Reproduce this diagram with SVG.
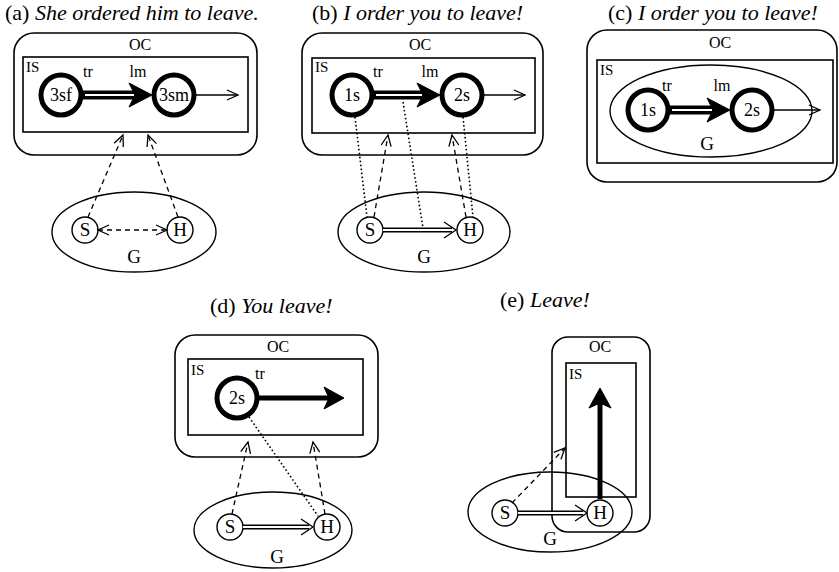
<svg xmlns="http://www.w3.org/2000/svg" width="839" height="572" viewBox="0 0 839 572" font-family="'Liberation Serif', 'Times New Roman', 'DejaVu Serif', serif">
<style>
text{font-family:'Liberation Serif','Times New Roman','DejaVu Serif',serif;fill:#000}
.title{font-size:22px}
.lbl{font-size:16px}
.sm{font-size:15px}
.tl{font-size:16px}
.nd{font-size:18px}
.sh{font-size:19px}
.oc{fill:none;stroke:#000;stroke-width:1.6}
.is{fill:none;stroke:#000;stroke-width:1.6}
.big{fill:#fff;stroke:#000;stroke-width:5}
.small{fill:#fff;stroke:#000;stroke-width:1.4}
.ell{fill:none;stroke:#000;stroke-width:1.4}
.thin{stroke:#000;stroke-width:1.3;fill:none}
.dash{stroke:#000;stroke-width:1.3;fill:none;stroke-dasharray:5 4}
.dot{stroke:#000;stroke-width:1.6;fill:none;stroke-dasharray:1.6 2.4}
.tk{stroke:#000;stroke-width:9;fill:none}
.tw{stroke:#fff;stroke-width:2;fill:none}
.dk{stroke:#000;stroke-width:5;fill:none}
.dw{stroke:#fff;stroke-width:2.2;fill:none}
.thick{stroke:#000;stroke-width:5;fill:none}
.head{fill:#000;stroke:#000;stroke-width:1;stroke-linejoin:round}
</style>
<defs>
<marker id="v" markerUnits="userSpaceOnUse" markerWidth="16" markerHeight="16" refX="12" refY="6" orient="auto-start-reverse" viewBox="0 0 16 12">
<path d="M1,1 L12,6 L1,11" fill="none" stroke="#000" stroke-width="1.3" stroke-dasharray="none"/>
</marker>
</defs>

<!-- Panel a -->
<g id="panel-a">
<text class="title" x="5" y="20">(a) <tspan font-style="italic">She ordered him to leave.</tspan></text>
<g id="a-OC"><rect class="oc" x="14" y="33" width="243" height="122" rx="20"/><text class="lbl" x="140" y="50" text-anchor="middle">OC</text></g>
<g id="a-IS"><rect class="is" x="23" y="57" width="225" height="75"/><text class="sm" x="26" y="72">IS</text></g>
<g id="a-3sf"><circle class="big" cx="61" cy="95" r="20"/><text class="nd" x="61" y="101" text-anchor="middle">3sf</text></g>
<g id="a-3sm"><circle class="big" cx="174" cy="95" r="20"/><text class="nd" x="174" y="101" text-anchor="middle">3sm</text></g>
<g id="a-G"><ellipse class="ell" cx="134" cy="232" rx="82" ry="40"/><text class="sh" x="134" y="263" text-anchor="middle">G</text></g>
<g id="a-S"><circle class="small" cx="85" cy="230" r="13"/><text class="sh" x="85" y="236" text-anchor="middle">S</text></g>
<g id="a-H"><circle class="small" cx="180" cy="230" r="13"/><text class="sh" x="180" y="236" text-anchor="middle">H</text></g>
<text class="tl" x="88" y="77" text-anchor="middle">tr</text>
<text class="tl" x="138" y="77" text-anchor="middle">lm</text>
</g>

<!-- Panel b -->
<g id="panel-b">
<text class="title" x="312" y="20">(b) <tspan font-style="italic">I order you to leave!</tspan></text>
<g id="b-OC"><rect class="oc" x="302" y="33" width="241" height="122" rx="20"/><text class="lbl" x="420" y="50" text-anchor="middle">OC</text></g>
<g id="b-IS"><rect class="is" x="312" y="58" width="223" height="75"/><text class="sm" x="315" y="72">IS</text></g>
<g id="b-1s"><circle class="big" cx="352" cy="95" r="20"/><text class="nd" x="352" y="101" text-anchor="middle">1s</text></g>
<g id="b-2s"><circle class="big" cx="462" cy="95" r="20"/><text class="nd" x="462" y="101" text-anchor="middle">2s</text></g>
<g id="b-G"><ellipse class="ell" cx="424" cy="232" rx="86" ry="40"/><text class="sh" x="424" y="263" text-anchor="middle">G</text></g>
<g id="b-S"><circle class="small" cx="370" cy="230" r="13"/><text class="sh" x="370" y="236" text-anchor="middle">S</text></g>
<g id="b-H"><circle class="small" cx="470" cy="230" r="13"/><text class="sh" x="470" y="236" text-anchor="middle">H</text></g>
<text class="tl" x="378" y="77" text-anchor="middle">tr</text>
<text class="tl" x="430" y="77" text-anchor="middle">lm</text>
</g>

<!-- Panel c -->
<g id="panel-c">
<text class="title" x="608" y="20">(c) <tspan font-style="italic">I order you to leave!</tspan></text>
<g id="c-OC"><rect class="oc" x="587" y="30" width="250" height="152" rx="20"/><text class="lbl" x="720" y="48" text-anchor="middle">OC</text></g>
<g id="c-IS"><rect class="is" x="597" y="60" width="236" height="103"/><text class="sm" x="600" y="75">IS</text></g>
<g id="c-G"><ellipse class="ell" cx="711" cy="111" rx="101" ry="46"/><text class="sh" x="707" y="150" text-anchor="middle">G</text></g>
<g id="c-1s"><circle class="big" cx="648" cy="110" r="20"/><text class="nd" x="648" y="116" text-anchor="middle">1s</text></g>
<g id="c-2s"><circle class="big" cx="752" cy="110" r="20"/><text class="nd" x="752" y="116" text-anchor="middle">2s</text></g>
<text class="tl" x="667" y="91" text-anchor="middle">tr</text>
<text class="tl" x="722" y="91" text-anchor="middle">lm</text>
</g>

<!-- Panel d -->
<g id="panel-d">
<text class="title" x="210" y="313">(d) <tspan font-style="italic">You leave!</tspan></text>
<g id="d-OC"><rect class="oc" x="175" y="335" width="203" height="122" rx="20"/><text class="lbl" x="278" y="352" text-anchor="middle">OC</text></g>
<g id="d-IS"><rect class="is" x="188" y="359" width="175" height="76"/><text class="sm" x="191" y="375">IS</text></g>
<g id="d-2s"><circle class="big" cx="237" cy="398" r="20"/><text class="nd" x="237" y="404" text-anchor="middle">2s</text></g>
<g id="d-G"><ellipse class="ell" cx="273" cy="530" rx="79" ry="38"/><text class="sh" x="277" y="563" text-anchor="middle">G</text></g>
<g id="d-S"><circle class="small" cx="230" cy="527" r="13"/><text class="sh" x="230" y="533" text-anchor="middle">S</text></g>
<g id="d-H"><circle class="small" cx="327" cy="527" r="13"/><text class="sh" x="327" y="533" text-anchor="middle">H</text></g>
<text class="tl" x="260" y="379" text-anchor="middle">tr</text>
</g>

<!-- Panel e -->
<g id="panel-e">
<text class="title" x="500" y="307">(e) <tspan font-style="italic">Leave!</tspan></text>
<g id="e-OC"><rect class="oc" x="552" y="337" width="98" height="195" rx="16"/><text class="lbl" x="600" y="352" text-anchor="middle">OC</text></g>
<g id="e-IS"><rect class="is" x="566" y="363" width="70" height="134"/><text class="sm" x="569" y="379">IS</text></g>
<g id="e-G"><ellipse class="ell" cx="550" cy="512" rx="82" ry="40"/><text class="sh" x="550" y="545" text-anchor="middle">G</text></g>
<g id="e-S"><circle class="small" cx="505" cy="513" r="13"/><text class="sh" x="505" y="519" text-anchor="middle">S</text></g>
<g id="e-H"><circle class="small" cx="600" cy="513" r="13"/><text class="sh" x="600" y="519" text-anchor="middle">H</text></g>
</g>

<g id="connectors">
<!-- a -->
<line class="tk" x1="83" y1="95" x2="138" y2="95"/>
<line class="tw" x1="85" y1="95" x2="134" y2="95"/>
<path class="head" d="M152,95 L129,83 L135,95 L129,107 Z"/>
<line class="thin" x1="196" y1="95" x2="238" y2="95" marker-end="url(#v)"/>
<line class="dash" x1="88" y1="217" x2="123" y2="135" marker-end="url(#v)"/>
<line class="dash" x1="178" y1="217" x2="148" y2="135" marker-end="url(#v)"/>
<line class="dash" x1="98" y1="230" x2="167" y2="230" marker-start="url(#v)" marker-end="url(#v)"/>
<!-- b -->
<line class="tk" x1="374" y1="95" x2="426" y2="95"/>
<line class="tw" x1="376" y1="95" x2="422" y2="95"/>
<path class="head" d="M440,95 L417,83 L423,95 L417,107 Z"/>
<line class="thin" x1="484" y1="95" x2="525" y2="95" marker-end="url(#v)"/>
<line class="dk" x1="383" y1="230" x2="452" y2="230"/>
<line class="dw" x1="383" y1="230" x2="452" y2="230"/>
<path class="thin" d="M444,222 L456,230 L444,238"/>
<line class="dot" x1="355" y1="117" x2="367" y2="217"/>
<line class="dot" x1="403" y1="102" x2="423" y2="228"/>
<line class="dot" x1="463" y1="117" x2="473" y2="217"/>
<line class="dash" x1="374" y1="217" x2="388" y2="135" marker-end="url(#v)"/>
<line class="dash" x1="466" y1="217" x2="452" y2="135" marker-end="url(#v)"/>
<!-- c -->
<line class="tk" x1="670" y1="110" x2="716" y2="110"/>
<line class="tw" x1="672" y1="110" x2="712" y2="110"/>
<path class="head" d="M730,110 L707,98 L713,110 L707,122 Z"/>
<line class="thin" x1="774" y1="110" x2="820" y2="110" marker-end="url(#v)"/>
<!-- d -->
<line class="thick" x1="259" y1="398" x2="332" y2="398"/>
<path class="head" d="M344,398 L324,387 L329,398 L324,409 Z"/>
<line class="dk" x1="243" y1="527" x2="309" y2="527"/>
<line class="dw" x1="243" y1="527" x2="309" y2="527"/>
<path class="thin" d="M301,519 L313,527 L301,535"/>
<line class="dot" x1="249" y1="417" x2="318" y2="516"/>
<line class="dash" x1="232" y1="514" x2="248" y2="442" marker-end="url(#v)"/>
<line class="dash" x1="325" y1="514" x2="313" y2="442" marker-end="url(#v)"/>
<!-- e -->
<line class="thick" x1="600" y1="499" x2="600" y2="400"/>
<path class="head" d="M600,388 L589,408 L600,403 L611,408 Z"/>
<line class="dk" x1="518" y1="513" x2="583" y2="513"/>
<line class="dw" x1="518" y1="513" x2="583" y2="513"/>
<path class="thin" d="M575,505 L587,513 L575,521"/>
<line class="dash" x1="512" y1="503" x2="565" y2="448" marker-end="url(#v)"/>
</g>
</svg>
